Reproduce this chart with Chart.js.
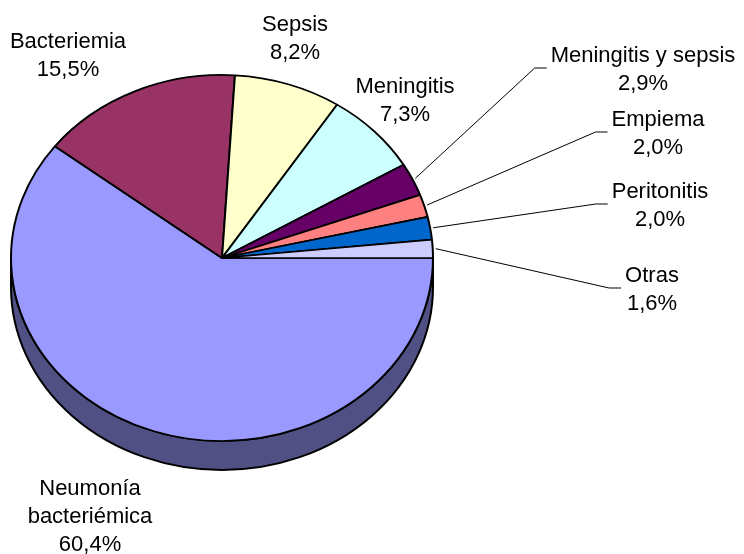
<!DOCTYPE html>
<html>
<head>
<meta charset="utf-8">
<script src="https://cdn.jsdelivr.net/npm/chart.js@4/dist/chart.umd.min.js"></script>
<style>
  html, body { margin: 0; padding: 0; background: #fff; }
  #wrap { width: 744px; height: 554px; }
</style>
</head>
<body>
<div id="wrap"><canvas id="pie" width="744" height="554"></canvas></div>
<script>
const nameLines = [
  ["Neumonía", "bacteriémica"],
  ["Bacteriemia"],
  ["Sepsis"],
  ["Meningitis"],
  ["Meningitis y sepsis"],
  ["Empiema"],
  ["Peritonitis"],
  ["Otras"],
];
const percents = [60.4, 15.5, 8.2, 7.3, 2.9, 2.0, 2.0, 1.6];
const sliceColors = ["#9999FF", "#993366", "#FFFFCC", "#CCFFFF", "#660066", "#FF8080", "#0066CC", "#CCCCFF"];
const hasLeader = [false, false, false, false, true, true, true, true];

// label layout: centre x, baseline of first line
const labelX = [90, 68, 295, 405, 643, 658, 660, 652];
const labelY = [495, 48, 31, 93, 62, 126, 198, 282];

const FONT = "22px 'Liberation Sans', Arial, sans-serif";
const LINE_H = 28;
const SQUASH = 183 / 211;
const DEPTH = 29;

const pctText = (v) => v.toFixed(1).replace(".", ",") + "%";

const shade = (hex, f) => {
  const n = parseInt(hex.slice(1), 16);
  const r = Math.round(((n >> 16) & 255) * f);
  const g = Math.round(((n >> 8) & 255) * f);
  const b = Math.round((n & 255) * f);
  return `rgb(${r},${g},${b})`;
};

const tiltPlugin = {
  id: "tilt",
  beforeDatasetsDraw(chart) {
    const ctx = chart.ctx;
    const arcs = chart.getDatasetMeta(0).data;
    const cx = arcs[0].x, cy = arcs[0].y;
    const rx = arcs[0].outerRadius, ry = rx * SQUASH;
    // side wall (front half only)
    ctx.save();
    ctx.lineWidth = 2;
    ctx.strokeStyle = "#000";
    arcs.forEach((arc, i) => {
      const a0 = Math.max(arc.startAngle, 0);
      const a1 = Math.min(arc.endAngle, Math.PI);
      if (a1 <= a0) return;
      ctx.beginPath();
      ctx.ellipse(cx, cy, rx, ry, 0, a0, a1);
      ctx.lineTo(cx + rx * Math.cos(a1), cy + ry * Math.sin(a1) + DEPTH);
      ctx.ellipse(cx, cy + DEPTH, rx, ry, 0, a1, a0, true);
      ctx.closePath();
      ctx.fillStyle = shade(sliceColors[i], 0.52);
      ctx.fill();
      ctx.stroke();
    });
    ctx.restore();
    // squash the top face
    ctx.save();
    ctx.translate(cx, cy);
    ctx.scale(1, SQUASH);
    ctx.translate(-cx, -cy);
  },
  afterDatasetsDraw(chart) {
    chart.ctx.restore();
  },
  afterDraw(chart) {
    const ctx = chart.ctx;
    const arcs = chart.getDatasetMeta(0).data;
    ctx.save();
    ctx.font = FONT;
    ctx.fillStyle = "#000";
    ctx.textAlign = "center";
    ctx.textBaseline = "alphabetic";
    arcs.forEach((arc, i) => {
      const lines = [...nameLines[i], pctText(percents[i])];
      lines.forEach((t, j) => ctx.fillText(t, labelX[i], labelY[i] + j * LINE_H));
      if (!hasLeader[i]) return;
      const w = Math.max(...lines.map((t) => ctx.measureText(t).width));
      const left = labelX[i] - w / 2;
      const midY = labelY[i] + ((lines.length - 1) * LINE_H) / 2 - 8;
      const mid = (arc.startAngle + arc.endAngle) / 2;
      const r = arc.outerRadius + 3;
      const sx = arc.x + r * Math.cos(mid);
      const sy = arc.y + r * SQUASH * Math.sin(mid);
      ctx.beginPath();
      ctx.lineWidth = 1;
      ctx.strokeStyle = "#000";
      ctx.moveTo(sx, sy);
      ctx.lineTo(left - 16, midY);
      ctx.lineTo(left - 4, midY);
      ctx.stroke();
    });
    ctx.restore();
  },
};

new Chart(document.querySelector("#pie"), {
  type: "pie",
  data: {
    labels: nameLines.map((l) => l.join(" ")),
    datasets: [
      {
        data: percents,
        backgroundColor: sliceColors,
        borderColor: "#000",
        borderWidth: 2,
      },
    ],
  },
  options: {
    responsive: false,
    animation: false,
    devicePixelRatio: 1,
    events: [],
    rotation: 90,
    layout: { padding: { left: 10, right: 310, top: 46, bottom: 84 } },
    plugins: {
      legend: { display: false },
      tooltip: { enabled: false },
    },
  },
  plugins: [tiltPlugin],
});
</script>
</body>
</html>
